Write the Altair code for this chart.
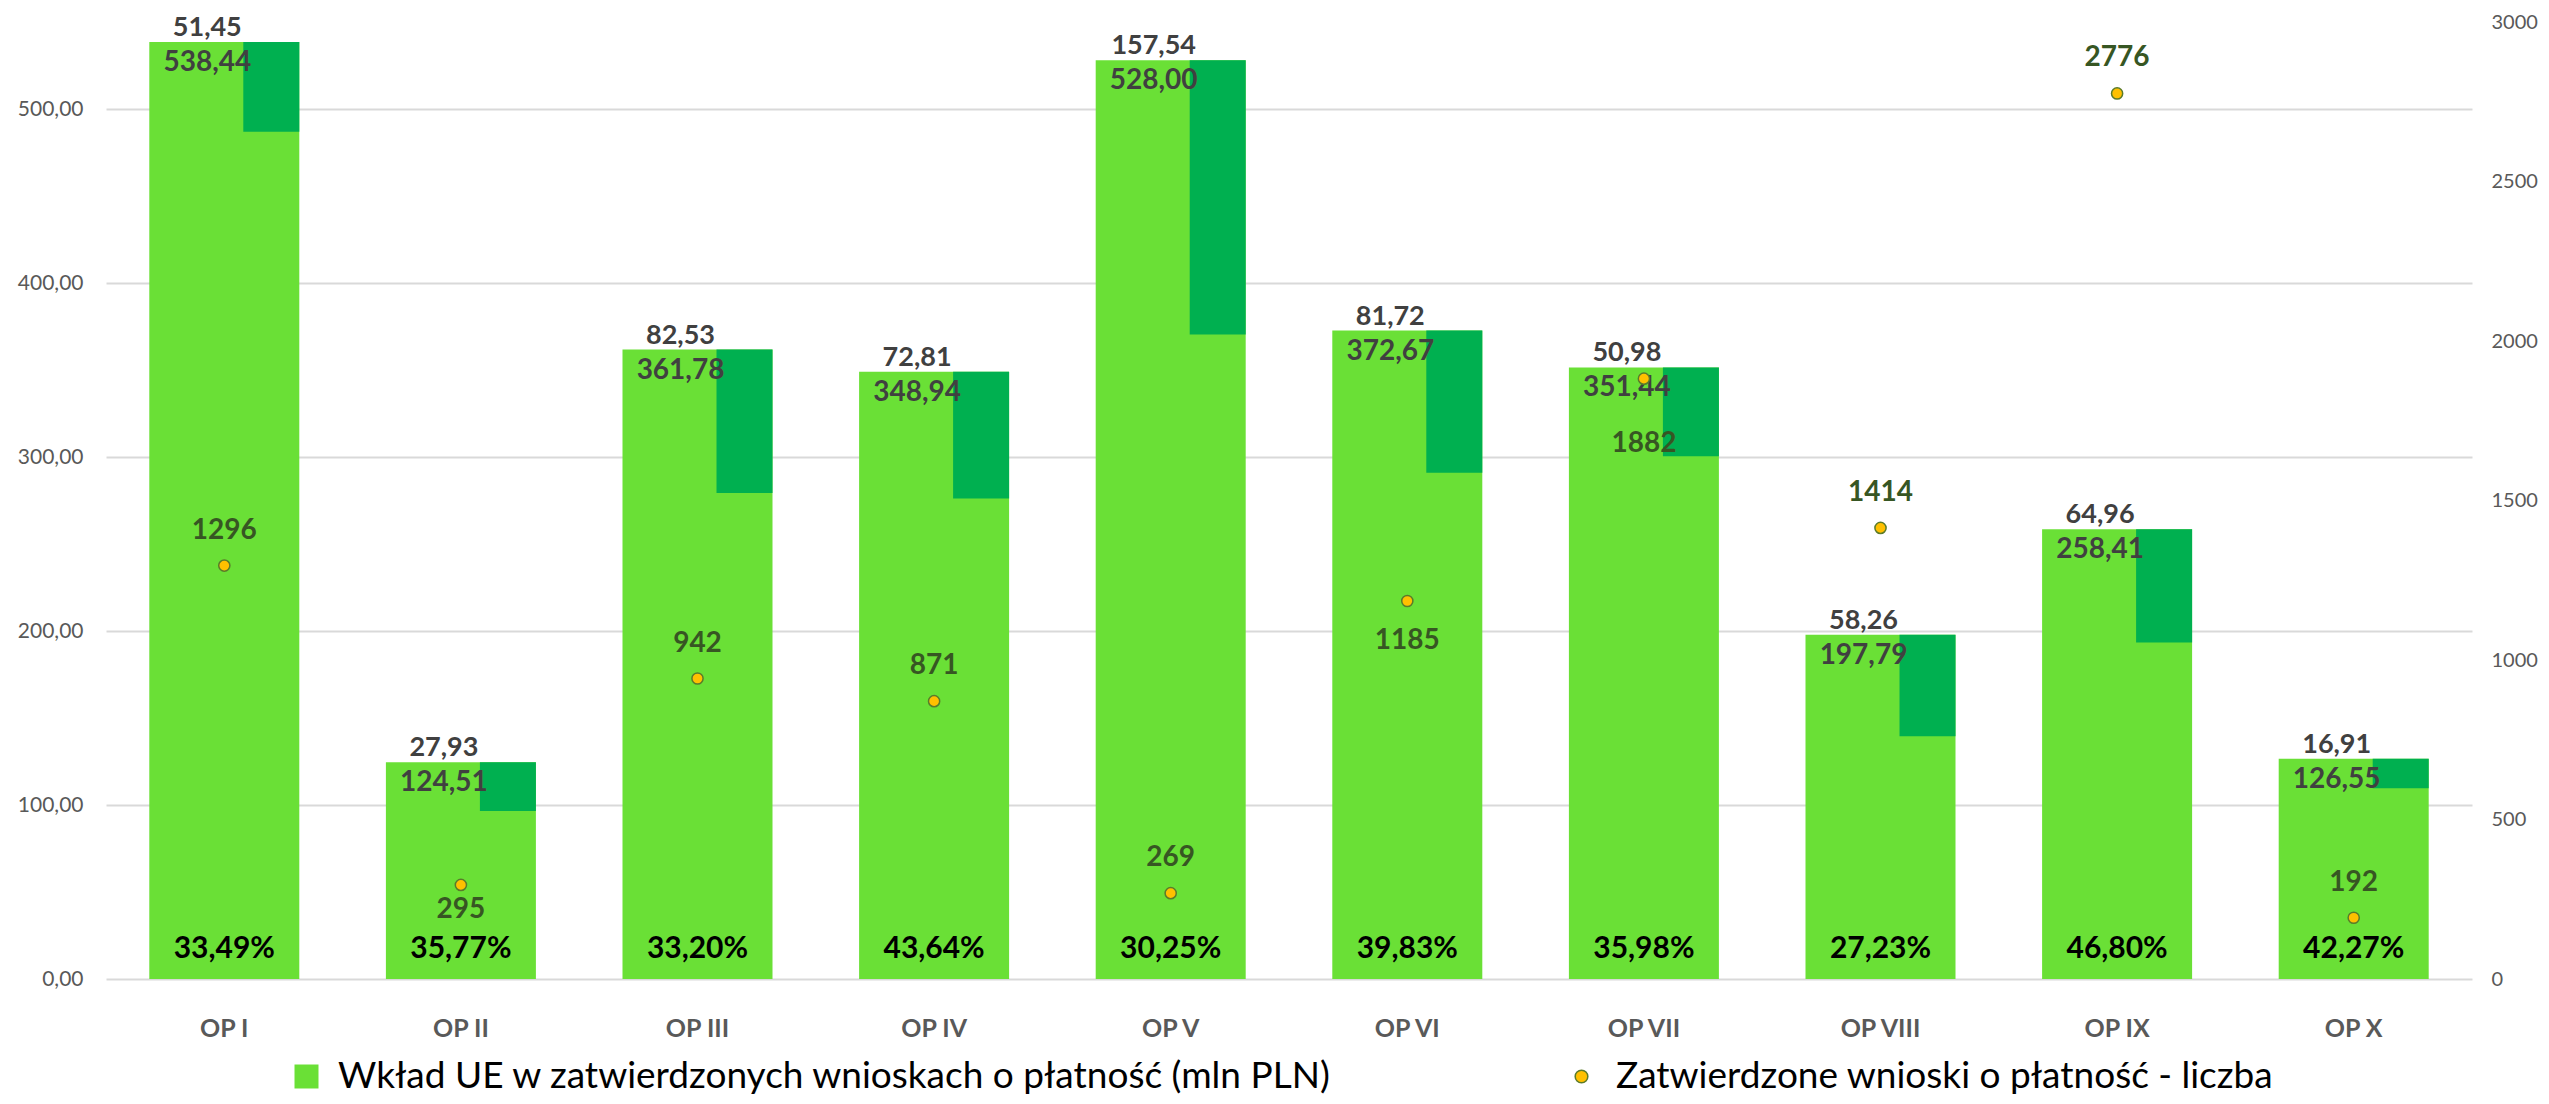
import altair as alt
import pandas as pd

categories = ["OP I", "OP II", "OP III", "OP IV", "OP V", "OP VI", "OP VII", "OP VIII", "OP IX", "OP X"]
wklad_ue = [538.44, 124.51, 361.78, 348.94, 528.00, 372.67, 351.44, 197.79, 258.41, 126.55]
top_part = [51.45, 27.93, 82.53, 72.81, 157.54, 81.72, 50.98, 58.26, 64.96, 16.91]
percents = [33.49, 35.77, 33.20, 43.64, 30.25, 39.83, 35.98, 27.23, 46.80, 42.27]
counts = [1296, 295, 942, 871, 269, 1185, 1882, 1414, 2776, 192]

name_bar = "Wkład UE w zatwierdzonych wnioskach o płatność (mln PLN)"
name_pt = "Zatwierdzone wnioski o płatność - liczba"

def pl(v):
    return f"{v:.2f}".replace(".", ",")

df = pd.DataFrame({
    "cat": categories,
    "value": wklad_ue,
    "top": top_part,
    "low": [v - t for v, t in zip(wklad_ue, top_part)],
    "value_lbl": [pl(v) for v in wklad_ue],
    "top_lbl": [pl(t) for t in top_part],
    "pct_lbl": [pl(p) + "%" for p in percents],
    "count": counts,
    "count_lbl": [str(c) for c in counts],
    "zero": [0] * len(categories),
    "s1": [name_bar] * len(categories),
    "s2": [name_pt] * len(categories),
})

FONT = "Lato"
W, H = 2366, 957

x_axis = alt.Axis(labelFont=FONT, labelFontWeight="bold", labelFontSize=25,
                  labelColor="#595959", labelPadding=37, labelAngle=0,
                  domain=False, ticks=False, grid=False)
x_enc = alt.X("cat:N", sort=categories, title=None,
              scale=alt.Scale(paddingInner=0, paddingOuter=0), axis=x_axis)

yscale = alt.Scale(domain=[0, 550], nice=False, zero=True)
y_axis_left = alt.Axis(values=[0, 100, 200, 300, 400, 500],
                       labelExpr="replace(format(datum.value, '.2f'), '.', ',')",
                       labelFont=FONT, labelFontSize=21, labelColor="#595959",
                       labelPadding=23, domain=False, ticks=False,
                       grid=True, gridColor="#D9D9D9", gridWidth=2, orient="left")

cscale = alt.Scale(domain=[0, 3000], nice=False)
y_axis_right = alt.Axis(orient="right", values=[0, 500, 1000, 1500, 2000, 2500, 3000],
                        format="d",
                        labelFont=FONT, labelFontSize=20, labelColor="#595959",
                        labelPadding=19, domain=False, ticks=False, grid=False)

base = alt.Chart(df)

def yl(field):
    return alt.Y(field, scale=yscale, title=None, axis=y_axis_left)

def yr(field):
    return alt.Y(field, scale=cscale, title=None, axis=y_axis_right)

bars = base.mark_bar(width=150, opacity=1).encode(
    x=x_enc,
    y=yl("value:Q"),
    color=alt.Color("s1:N", scale=alt.Scale(domain=[name_bar], range=["#6AE036"]),
                    legend=alt.Legend(title=None, orient="none", legendX=182, legendY=1036,
                                      symbolType="square", symbolSize=576,
                                      symbolStrokeWidth=0, labelFont=FONT,
                                      labelFontSize=37, labelColor="#000000",
                                      labelOffset=13, padding=0, labelLimit=2000)),
)

dark = base.mark_bar(width=56, xOffset=47, color="#00B050", opacity=1).encode(
    x=x_enc,
    y=yl("low:Q"),
    y2="value:Q",
)

val_txt = base.mark_text(font=FONT, fontWeight="bold", fontSize=28, color="#404040",
                         dx=-17, dy=29, baseline="alphabetic").encode(
    x=x_enc,
    y=yl("value:Q"),
    text="value_lbl:N",
)

top_txt = base.mark_text(font=FONT, fontWeight="bold", fontSize=27, color="#404040",
                         dx=-17, dy=-6, baseline="alphabetic").encode(
    x=x_enc,
    y=yl("value:Q"),
    text="top_lbl:N",
)

pct_txt = base.mark_text(font=FONT, fontWeight="bold", fontSize=30, color="#000000",
                         dy=-21, baseline="alphabetic").encode(
    x=x_enc,
    y=yl("zero:Q"),
    text="pct_lbl:N",
)

left = alt.layer(bars, dark, val_txt, top_txt, pct_txt)

points = base.mark_circle(size=125, stroke="#5B7B2A", strokeWidth=1.5, opacity=1).encode(
    x=x_enc,
    y=yr("count:Q"),
    fill=alt.Fill("s2:N", scale=alt.Scale(domain=[name_pt], range=["#FFC000"]),
                  legend=alt.Legend(title=None, orient="none", legendX=1457, legendY=1036,
                                    symbolType="circle", symbolSize=160,
                                    symbolStrokeColor="#5B7B2A", symbolStrokeWidth=1.5,
                                    labelFont=FONT, labelFontSize=37, labelColor="#000000",
                                    labelOffset=16, padding=0, labelLimit=2000)),
)

label_style = {"OP II": 33, "OP VI": 48, "OP VII": 73}

def count_layer(filter_pred, dy):
    return base.transform_filter(filter_pred).mark_text(
        font=FONT, fontWeight="bold", fontSize=28, color="#375623",
        dy=dy, baseline="alphabetic").encode(
        x=x_enc,
        y=yr("count:Q"),
        text="count_lbl:N",
    )

below_cats = list(label_style.keys())
above = count_layer(alt.FieldOneOfPredicate(field="cat", oneOf=[c for c in categories if c not in below_cats]), -27)
below_layers = [count_layer(alt.FieldEqualPredicate(field="cat", equal=c), d) for c, d in label_style.items()]

right = alt.layer(points, above, *below_layers)

chart = alt.layer(left, right).resolve_scale(y="independent").properties(
    width=W, height=H,
    autosize=alt.AutoSizeParams(type="none"),
    padding={"left": 98, "top": 14, "right": 69, "bottom": 117},
    background="white",
).configure_view(stroke=None)

chart.save("out.html", embed_options={"renderer": "svg", "actions": False})
